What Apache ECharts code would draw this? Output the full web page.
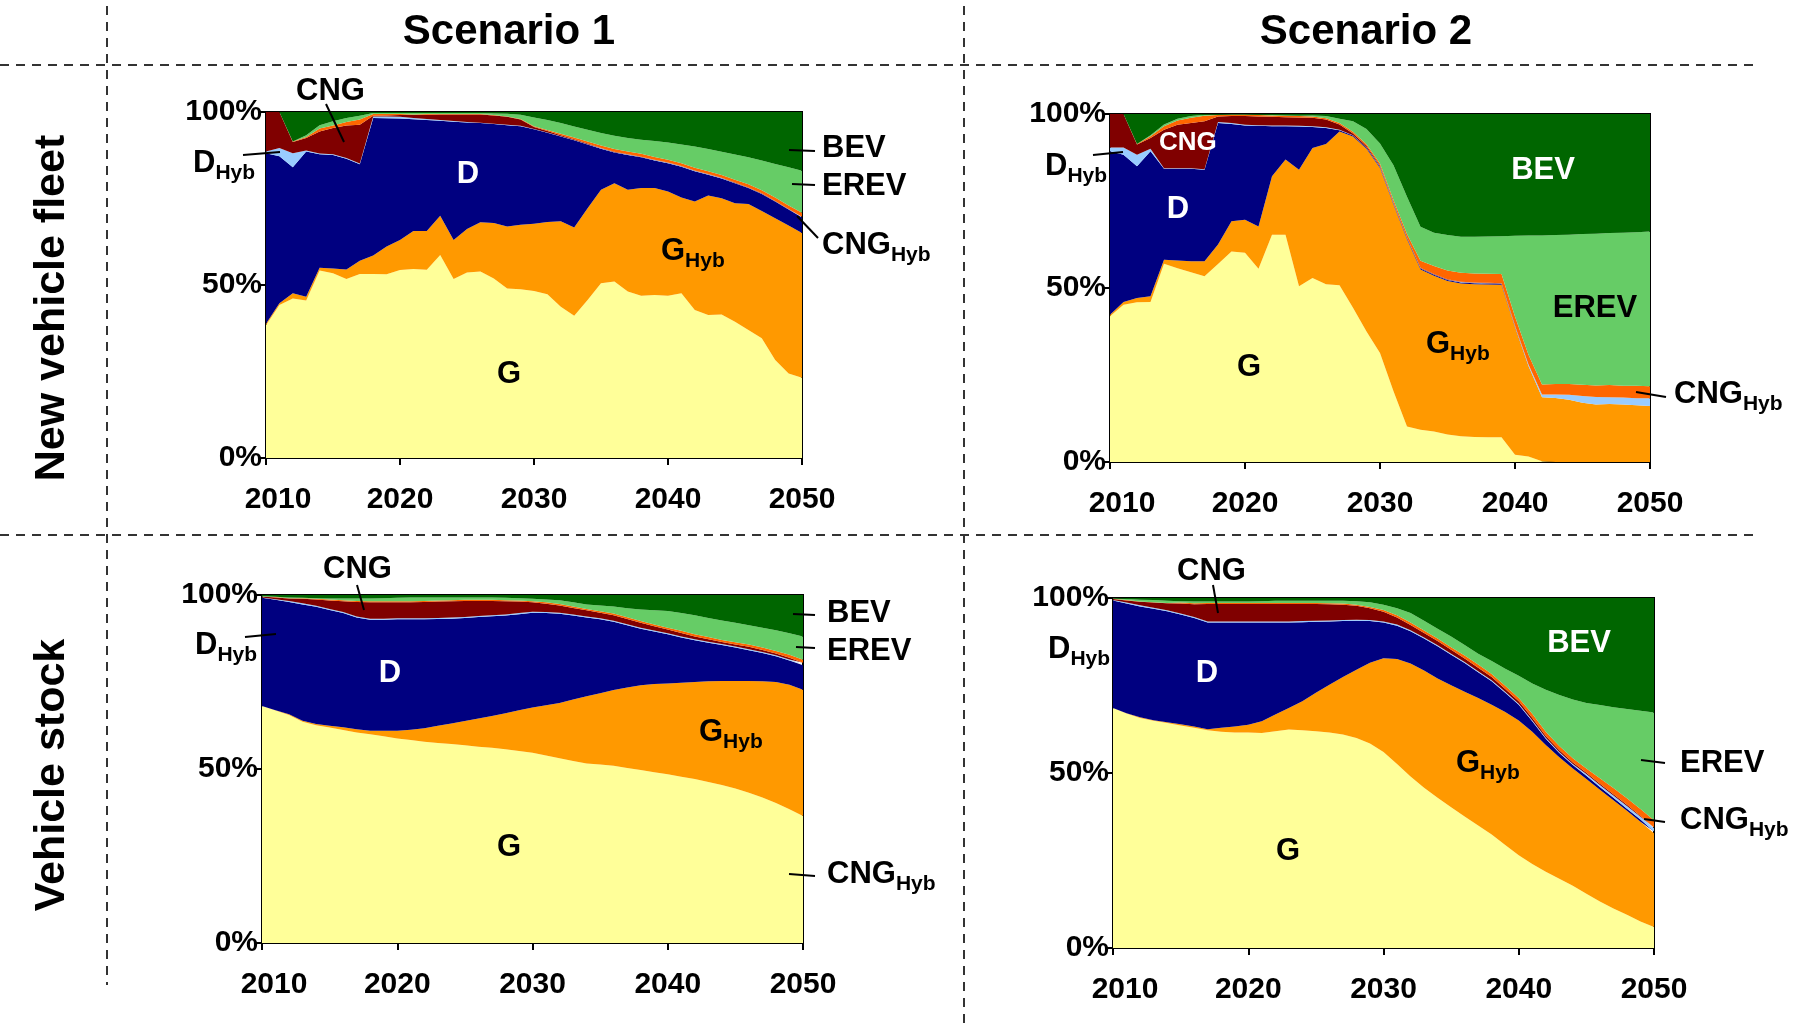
<!DOCTYPE html>
<html>
<head>
<meta charset="utf-8">
<script src="https://cdn.jsdelivr.net/npm/echarts@6/dist/echarts.min.js"></script>
<style>
  html, body { margin: 0; padding: 0; background: #fff; }
  #chart { width: 1800px; height: 1035px; }
</style>
</head>
<body>
<div id="chart"></div>
<script>
// Years on the x axis
const years = [];
for (let y = 2010; y <= 2050; y++) years.push(String(y));
const yTicks = [0, 50, 100];

// ---- New vehicle fleet, Scenario 1 (shares in %) ----
const fleet1_G      = [38.4,44.2,46.1,45.5,54.2,53.4,51.7,53.2,53.2,53.1, 54.3,54.6,54.4,58.7,51.7,53.6,53.9,51.9,49.0,48.8, 48.3,47.3,43.7,41.1,45.7,50.5,51.0,48.1,46.9,47.1, 46.9,47.6,42.8,41.3,41.5,39.4,37.0,34.6,28.3,24.4,23.2];
const fleet1_GHyb   = [0.4,0.5,1.5,1.1,0.8,1.4,2.8,3.8,5.3,8.0, 8.7,11.0,11.2,11.3,11.3,12.6,14.2,16.0,17.9,18.6, 19.4,20.9,24.7,25.5,26.5,27.0,28.4,29.4,31.1,30.9, 30.1,27.7,31.3,34.6,33.6,34.2,36.4,36.8,41.0,42.8,41.8];
const fleet1_D      = [49.3,42.5,36.4,42.0,32.8,32.8,32.0,27.9,39.8,37.1, 35.1,32.3,32.1,27.5,34.2,30.8,28.7,28.6,29.3,28.5, 27.3,25.8,24.5,25.2,18.4,11.9,8.9,10.1,8.9,8.0, 8.2,8.9,8.8,6.0,5.7,5.8,4.6,4.9,4.8,4.6,4.5];
const fleet1_DHyb   = [0.5,2.4,4.1,0.3,0.2,0.2,0.2,0.2,0.4,0.5, 0.5,0.4,0.3,0.2,0.2,0.1,0.1,0.1,0.1,0.1, 0.1,0.1,0.1,0.1,0.1,0.1,0.1,0.1,0.1,0.1, 0.1,0.1,0.1,0.1,0.1,0.1,0.1,0.1,0.1,0.1,0.1];
const fleet1_CNG    = [11.4,10.4,3.2,3.6,6.4,7.6,9.4,11.2,0.2,0.3, 0.5,0.8,1.2,1.6,1.9,2.2,2.4,2.4,2.3,1.8, 0.6,0.4,0.3,0.2,0.2,0.1,0.1,0.1,0.1,0.1, 0.1,0.1,0.1,0.1,0.1,0.1,0.1,0.1,0.1,0.1,0.1];
const fleet1_CNGHyb = [0,0,0.2,0.3,0.8,0.7,1.0,1.5,0.5,0.4, 0.3,0.2,0.2,0.1,0.1,0.1,0.1,0.1,0.1,0.2, 0.2,0.3,0.4,0.5,0.6,0.7,0.8,0.8,0.8,0.8, 0.8,0.8,0.8,0.8,0.8,0.8,0.9,0.9,1.0,1.0,1.2];
const fleet1_EREV   = [0,0,0,0.5,1.0,1.2,1.2,1.1,0.3,0.3, 0.3,0.4,0.3,0.3,0.3,0.3,0.3,0.5,0.8,1.2, 2.5,2.9,3.1,3.2,3.4,3.6,3.8,3.9,4.1,4.6, 5.0,5.4,6.1,6.4,6.7,7.3,7.8,8.6,9.7,11.0,12.1];
const fleet1_BEV    = [0,0,8.5,6.7,3.8,2.7,1.7,1.1,0.3,0.3, 0.3,0.3,0.3,0.3,0.3,0.3,0.3,0.4,0.5,0.8, 1.6,2.3,3.2,4.2,5.1,6.1,6.9,7.5,8.0,8.4, 8.8,9.4,10.0,10.7,11.5,12.3,13.1,14.0,15.0,16.0,17.0];

// ---- New vehicle fleet, Scenario 2 ----
const fleet2_G      = [41.9,45.2,45.9,46.0,57.0,55.7,54.5,53.4,56.9,60.5, 60.1,55.5,65.3,65.3,50.5,52.9,51.1,50.8,44.3,37.5, 31.3,20.3,10.2,9.3,8.8,7.9,7.4,7.2,7.1,7.1, 2.1,1.6,0.2,0,0,0,0,0,0,0,0];
const fleet2_GHyb   = [0.4,0.8,1.2,1.6,1.1,2.2,3.2,4.3,5.6,8.7, 9.5,12.2,16.8,21.6,33.5,37.3,40.3,44.2,49.2,52.5, 53.2,53.7,53.8,46.0,44.7,44.1,43.9,43.9,43.9,43.8, 36.6,25.9,18.4,18.4,17.9,17.0,16.5,16.7,16.5,16.3,16.1];
const fleet2_D      = [47.0,42.3,37.9,41.7,26.2,26.4,26.6,26.3,34.9,27.9, 27.1,28.9,14.4,9.6,12.4,6.1,4.6,0.3,0.3,0.3, 0.3,0.3,0.3,0.3,0.3,0.3,0.3,0.3,0.3,0.3, 0.2,0.1,0,0,0,0,0,0,0,0,0];
const fleet2_DHyb   = [1.1,2.1,3.3,0.7,0.1,0.1,0.1,0.1,0.3,0.3, 0.2,0.2,0.2,0.2,0.2,0.2,0.2,0.2,0.1,0.1, 0.1,0.1,0.1,0.1,0.1,0.1,0.1,0.1,0.1,0.1, 0.2,0.4,0.8,1.0,1.4,2.0,2.2,1.9,2.0,2.0,2.2];
const fleet2_CNG    = [9.6,9.6,2.9,3.1,11.1,12.5,13.0,13.8,1.6,2.0, 2.5,2.5,2.5,2.4,2.4,2.4,2.2,1.5,0.5,0.4, 0.3,0.2,0.1,0.1,0.1,0.1,0.1,0.1,0.1,0.1, 0.1,0,0,0,0,0,0,0,0,0,0];
const fleet2_CNGHyb = [0,0,0.2,0.5,1.0,1.2,1.5,1.6,0.4,0.4, 0.4,0.4,0.4,0.4,0.4,0.4,0.4,0.4,0.5,0.5, 0.6,0.7,1.0,2.0,2.3,2.5,2.6,2.6,2.6,2.6, 2.6,2.8,2.9,3.0,3.1,3.2,3.3,3.5,3.4,3.6,3.5];
const fleet2_EREV   = [0,0,0,0.3,0.5,0.5,0.5,0.3,0.1,0.1, 0.1,0.1,0.1,0.1,0.1,0.3,0.6,1.2,3.0,4.4, 5.7,10.0,10.7,9.8,9.6,10.2,10.3,10.5,10.7,10.9, 23.2,34.3,42.8,42.8,42.9,43.3,43.6,43.7,44.0,44.1,44.4];
const fleet2_BEV    = [0,0,8.6,6.1,3.0,1.4,0.6,0.2,0.2,0.1, 0.1,0.2,0.3,0.4,0.5,0.4,0.6,1.4,2.1,4.3, 8.5,14.7,23.8,32.4,34.1,34.8,35.3,35.3,35.2,35.1, 35.0,34.9,34.9,34.8,34.7,34.5,34.4,34.2,34.1,34.0,33.8];

// ---- Vehicle stock, Scenario 1 ----
const stock1_G      = [68.1,66.8,65.5,63.6,62.6,61.9,61.2,60.5,60.0,59.4, 58.8,58.3,57.8,57.5,57.2,56.8,56.4,56.1,55.7,55.2, 54.7,53.9,53.1,52.3,51.6,51.3,50.9,50.3,49.7,49.1, 48.5,47.8,47.1,46.3,45.4,44.4,43.2,41.8,40.2,38.4,36.5];
const stock1_GHyb   = [0.0,0.1,0.2,0.3,0.3,0.5,0.8,0.9,1.0,1.6, 2.2,3.0,3.9,4.9,5.9,7.0,8.1,9.1,10.3,11.7, 13.0,14.4,15.9,17.7,19.3,20.5,21.8,23.1,24.4,25.3, 26.1,27.0,27.9,28.9,29.9,30.9,32.1,33.4,34.8,35.8,36.3];
const stock1_D      = [31.1,31.7,32.3,33.4,33.7,33.3,32.8,32.1,31.9,31.9, 32.0,31.7,31.3,30.7,30.1,29.6,29.2,28.7,28.1,27.6, 27.2,26.5,25.6,24.1,22.6,21.2,19.6,17.9,16.2,15.1, 14.1,13.0,12.0,11.1,10.3,9.6,8.8,8.1,7.4,7.0,7.0];
const stock1_DHyb   = [0.1,0.2,0.3,0.3,0.3,0.3,0.3,0.3,0.3,0.3, 0.3,0.3,0.3,0.3,0.3,0.3,0.3,0.3,0.3,0.3, 0.3,0.3,0.3,0.3,0.3,0.3,0.3,0.3,0.3,0.3, 0.3,0.3,0.3,0.3,0.3,0.3,0.3,0.3,0.3,0.3,0.3];
const stock1_CNG    = [0.3,0.5,0.7,1.3,1.8,2.4,3.1,4.2,4.7,4.7, 4.6,4.6,4.7,4.7,4.7,4.6,4.3,4.1,3.8,3.3, 2.7,2.4,2.1,1.9,1.8,1.6,1.6,1.5,1.4,1.2, 1.1,1.0,0.8,0.7,0.6,0.6,0.7,0.6,0.5,0.5,0.4];
const stock1_CNGHyb = [0,0.1,0.1,0.2,0.2,0.3,0.3,0.3,0.3,0.3, 0.3,0.3,0.3,0.3,0.3,0.3,0.3,0.3,0.3,0.3, 0.3,0.4,0.4,0.4,0.4,0.4,0.5,0.5,0.5,0.5, 0.5,0.6,0.6,0.6,0.6,0.6,0.7,0.7,0.7,0.8,0.9];
const stock1_EREV   = [0.1,0.1,0.2,0.1,0.2,0.3,0.5,0.7,0.8,0.9, 1.0,1.1,1.0,0.9,0.8,0.7,0.7,0.7,0.7,0.7, 0.7,0.8,1.1,1.2,1.3,1.7,2.0,2.6,3.3,4.1, 4.8,5.1,5.5,5.5,5.6,5.6,5.5,5.7,6.0,6.2,6.7];
const stock1_BEV    = [0.3,0.5,0.7,0.8,0.9,1.0,1.0,1.0,1.0,0.9, 0.8,0.7,0.7,0.7,0.7,0.7,0.7,0.7,0.8,0.9, 1.1,1.3,1.5,2.1,2.7,3.0,3.3,3.8,4.2,4.4, 4.6,5.2,5.8,6.6,7.3,8.0,8.7,9.4,10.1,11.0,11.9];

// ---- Vehicle stock, Scenario 2 ----
const stock2_G      = [68.6,67.0,65.7,64.9,64.3,63.6,62.9,62.2,61.8,61.6, 61.6,61.4,61.9,62.4,62.2,61.9,61.6,61.0,60.0,58.4, 56.0,52.6,49.0,45.8,42.9,40.2,37.6,35.0,32.4,29.4, 26.5,24.0,21.8,19.8,17.8,15.5,13.3,11.3,9.5,7.6,6.0];
const stock2_GHyb   = [0.0,0.1,0.2,0.2,0.2,0.3,0.4,0.3,1.1,1.7, 2.2,3.4,4.8,6.2,8.3,11.0,13.6,16.4,19.5,23.1, 26.8,30.0,32.3,33.5,34.1,34.9,35.6,36.4,37.1,38.0, 38.5,37.8,36.2,34.7,33.5,32.8,31.9,30.9,29.7,28.5,26.8];
const stock2_D      = [30.7,31.3,31.7,31.8,31.7,31.4,31.0,30.5,30.1,29.7, 29.2,28.2,26.3,24.4,22.6,20.3,18.1,16.0,14.0,11.9, 10.2,9.5,9.2,9.1,9.2,8.7,8.2,7.4,6.7,5.5, 4.5,3.0,1.8,1.2,1.0,0.9,0.8,0.7,0.6,0.6,0.5];
const stock2_DHyb   = [0.1,0.3,0.3,0.3,0.3,0.3,0.3,0.3,0.3,0.3, 0.3,0.3,0.3,0.3,0.3,0.3,0.3,0.3,0.3,0.3, 0.3,0.3,0.3,0.3,0.3,0.3,0.3,0.3,0.3,0.3, 0.3,0.3,0.3,0.3,0.3,0.5,0.6,0.7,0.8,0.8,0.9];
const stock2_CNG    = [0.3,0.6,1.0,1.5,2.0,2.8,3.6,5.0,5.0,5.0, 5.0,5.0,5.0,5.0,4.9,4.8,4.6,4.4,4.0,3.4, 2.8,2.0,1.5,1.3,1.2,1.1,1.0,1.0,0.9,0.8, 0.7,0.6,0.5,0.5,0.4,0.4,0.3,0.3,0.3,0.2,0.2];
const stock2_CNGHyb = [0.1,0.1,0.1,0.1,0.1,0.3,0.3,0.3,0.3,0.3, 0.3,0.3,0.3,0.3,0.3,0.3,0.3,0.3,0.3,0.3, 0.5,0.7,0.7,0.7,0.7,0.7,0.9,0.9,0.9,0.9, 0.9,1.2,1.2,1.2,1.2,1.2,1.6,1.8,1.9,2.0,2.1];
const stock2_EREV   = [0.1,0.3,0.5,0.6,0.6,0.4,0.5,0.4,0.4,0.4, 0.4,0.5,0.6,0.6,0.6,0.6,0.7,0.8,1.0,1.4, 1.5,2.0,2.7,2.8,2.8,3.1,3.0,3.1,3.7,4.9, 6.4,8.7,12.0,14.6,16.8,18.7,20.9,23.1,25.5,28.1,30.8];
const stock2_BEV    = [0.1,0.3,0.5,0.6,0.8,0.9,1.0,1.0,1.0,1.0, 1.0,0.9,0.8,0.8,0.8,0.8,0.8,0.8,0.9,1.2, 1.9,2.9,4.3,6.5,8.8,11.0,13.4,15.9,18.0,20.2, 22.2,24.4,26.2,27.7,29.0,30.0,30.6,31.2,31.7,32.2,32.7];

// Powertrain order (bottom to top of each stack) and fill colours
const powertrains = ['G', 'GHyb', 'D', 'DHyb', 'CNG', 'CNGHyb', 'EREV', 'BEV'];
const colors = {
  G: '#FFFF99', GHyb: '#FF9900', D: '#000080', DHyb: '#99CCFF',
  CNG: '#800000', CNGHyb: '#FF6600', EREV: '#66CC66', BEV: '#006600'
};

const panels = [
  { grid: { left: 266, top: 112, width: 536, height: 346 },
    data: { G: fleet1_G, GHyb: fleet1_GHyb, D: fleet1_D, DHyb: fleet1_DHyb, CNG: fleet1_CNG, CNGHyb: fleet1_CNGHyb, EREV: fleet1_EREV, BEV: fleet1_BEV } },
  { grid: { left: 1110, top: 114, width: 540, height: 348 },
    data: { G: fleet2_G, GHyb: fleet2_GHyb, D: fleet2_D, DHyb: fleet2_DHyb, CNG: fleet2_CNG, CNGHyb: fleet2_CNGHyb, EREV: fleet2_EREV, BEV: fleet2_BEV } },
  { grid: { left: 262, top: 595, width: 541, height: 348 },
    data: { G: stock1_G, GHyb: stock1_GHyb, D: stock1_D, DHyb: stock1_DHyb, CNG: stock1_CNG, CNGHyb: stock1_CNGHyb, EREV: stock1_EREV, BEV: stock1_BEV } },
  { grid: { left: 1113, top: 598, width: 541, height: 350 },
    data: { G: stock2_G, GHyb: stock2_GHyb, D: stock2_D, DHyb: stock2_DHyb, CNG: stock2_CNG, CNGHyb: stock2_CNGHyb, EREV: stock2_EREV, BEV: stock2_BEV } }
];

const FONT = '"Liberation Sans", Arial, Helvetica, sans-serif';
const AXIS_FONT = 30;
const labelStyle = { fontFamily: FONT, fontWeight: 'bold', fontSize: AXIS_FONT, color: '#000' };

const grids = [], xAxes = [], yAxes = [], series = [];
panels.forEach((p, i) => {
  grids.push(Object.assign({ show: true, borderColor: '#000', borderWidth: 2, backgroundColor: 'transparent' }, p.grid));
  xAxes.push({
    gridIndex: i, type: 'category', data: years, boundaryGap: false,
    axisLine: { show: true, lineStyle: { color: '#000', width: 2 } },
    axisTick: { show: true, inside: false, length: 7, interval: 9, lineStyle: { color: '#000', width: 2 } },
    splitLine: { show: false },
    axisLabel: Object.assign({}, labelStyle, {
      margin: 27, interval: 9, showMinLabel: true, showMaxLabel: true,
      formatter: (v, idx) => (idx === 0 ? '{f|' + v + '}' : '{n|' + v + '}'),
      rich: { f: Object.assign({ padding: [0, 0, 0, 24] }, labelStyle), n: Object.assign({}, labelStyle) }
    })
  });
  yAxes.push({
    gridIndex: i, type: 'value', min: yTicks[0], max: yTicks[yTicks.length - 1], interval: 50,
    axisLine: { show: true, lineStyle: { color: '#000', width: 2 } },
    axisTick: { show: true, inside: false, length: 7, lineStyle: { color: '#000', width: 2 } },
    splitLine: { show: false },
    axisLabel: Object.assign({}, labelStyle, { margin: 4, padding: [6, 0, 0, 0], formatter: '{value}%' })
  });
  powertrains.forEach(k => {
    series.push({
      name: k + '_' + i, type: 'line', xAxisIndex: i, yAxisIndex: i, stack: 'share' + i,
      data: p.data[k],
      symbol: 'none', showSymbol: false, silent: true,
      lineStyle: { width: 0, color: colors[k] },
      itemStyle: { color: colors[k] },
      areaStyle: { color: colors[k], opacity: 1 },
      emphasis: { disabled: true }
    });
  });
});

// Text helpers for the annotation labels (with subscripts)
const measureCtx = document.createElement('canvas').getContext('2d');
function textWidth(str, size) {
  measureCtx.font = 'bold ' + size + 'px ' + FONT;
  return measureCtx.measureText(str).width;
}
function txt(x, y, str, size, color, align) {
  return {
    type: 'text', x: x, y: y, z: 100, silent: true,
    style: {
      text: str, fill: color, fontFamily: FONT, fontWeight: 'bold', fontSize: size,
      align: align || 'left', verticalAlign: 'middle',
      textAlign: align || 'left', textVerticalAlign: 'middle'
    }
  };
}
// x,y: left edge (or centre) and vertical middle of the main glyphs
function label(x, y, main, sub, opt) {
  opt = opt || {};
  const size = opt.size || 31;
  const subSize = Math.round(size * 0.68);
  const color = opt.color || '#000';
  const wMain = textWidth(main, size);
  const wSub = sub ? textWidth(sub, subSize) : 0;
  let left = x;
  if (opt.center) left = x - (wMain + wSub) / 2;
  const out = [txt(left, y, main, size, color, 'left')];
  if (sub) out.push(txt(left + wMain, y + size * 0.34, sub, subSize, color, 'left'));
  return out;
}
function leader(x1, y1, x2, y2) {
  return { type: 'line', z: 100, silent: true, shape: { x1, y1, x2, y2 }, style: { stroke: '#000', lineWidth: 2 } };
}
function dashed(x1, y1, x2, y2) {
  return { type: 'line', z: 100, silent: true, shape: { x1, y1, x2, y2 }, style: { stroke: '#333', lineWidth: 2, lineDash: [9, 7] } };
}

const W = '#fff';
let graphics = [];
// panel separators
graphics.push(dashed(0, 65, 1754, 65), dashed(0, 535, 1754, 535), dashed(107, 6, 107, 985), dashed(964, 6, 964, 1027));
// column and row headers
graphics.push(txt(509, 32, 'Scenario 1', 42, '#000', 'center'));
graphics.push(txt(1366, 32, 'Scenario 2', 42, '#000', 'center'));
const rowA = txt(52, 308, 'New vehicle fleet', 43, '#000', 'center'); rowA.rotation = Math.PI / 2;
const rowB = txt(52, 775, 'Vehicle stock', 43, '#000', 'center'); rowB.rotation = Math.PI / 2;
graphics.push(rowA, rowB);

// New vehicle fleet, Scenario 1
graphics = graphics.concat(
  label(296, 91, 'CNG'), label(193, 163, 'D', 'Hyb'), label(468, 174, 'D', '', { color: W, center: true }),
  label(661, 251, 'G', 'Hyb'), label(509, 374, 'G', '', { center: true }),
  label(822, 148, 'BEV'), label(822, 186, 'EREV'), label(822, 245, 'CNG', 'Hyb'),
  [leader(326, 104, 344, 142), leader(243, 155, 280, 152), leader(789, 150, 815, 151), leader(792, 184, 815, 185), leader(797, 216, 818, 238)]
);
// New vehicle fleet, Scenario 2
graphics = graphics.concat(
  label(1159, 143, 'CNG', '', { color: W, size: 26 }), label(1045, 166, 'D', 'Hyb'),
  label(1178, 209, 'D', '', { color: W, center: true }), label(1543, 170, 'BEV', '', { color: W, center: true }),
  label(1595, 308, 'EREV', '', { center: true }), label(1426, 344, 'G', 'Hyb'),
  label(1249, 367, 'G', '', { center: true }), label(1674, 394, 'CNG', 'Hyb'),
  [leader(1093, 155, 1123, 152), leader(1636, 392, 1666, 397)]
);
// Vehicle stock, Scenario 1
graphics = graphics.concat(
  label(323, 569, 'CNG'), label(195, 645, 'D', 'Hyb'), label(390, 673, 'D', '', { color: W, center: true }),
  label(699, 732, 'G', 'Hyb'), label(509, 847, 'G', '', { center: true }),
  label(827, 613, 'BEV'), label(827, 651, 'EREV'), label(827, 874, 'CNG', 'Hyb'),
  [leader(357, 585, 364, 610), leader(245, 637, 276, 634), leader(793, 614, 815, 615), leader(796, 647, 815, 648), leader(789, 874, 815, 876)]
);
// Vehicle stock, Scenario 2
graphics = graphics.concat(
  label(1177, 571, 'CNG'), label(1048, 649, 'D', 'Hyb'), label(1207, 673, 'D', '', { color: W, center: true }),
  label(1579, 643, 'BEV', '', { color: W, center: true }), label(1456, 763, 'G', 'Hyb'),
  label(1288, 851, 'G', '', { center: true }), label(1680, 763, 'EREV'), label(1680, 820, 'CNG', 'Hyb'),
  [leader(1213, 585, 1218, 613), leader(1641, 760, 1665, 763), leader(1644, 819, 1665, 822)]
);

const chart = echarts.init(document.getElementById('chart'), null, { renderer: 'canvas' });
chart.setOption({
  animation: false,
  backgroundColor: '#fff',
  grid: grids,
  xAxis: xAxes,
  yAxis: yAxes,
  series: series,
  graphic: { elements: graphics }
});
</script>
</body>
</html>
